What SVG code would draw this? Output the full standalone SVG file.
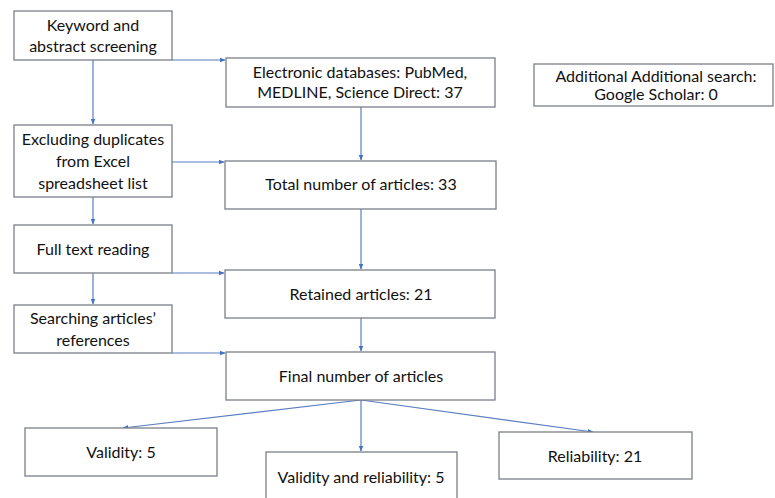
<svg xmlns="http://www.w3.org/2000/svg" width="775" height="498" viewBox="0 0 775 498">
<style>
.box{fill:#fff;stroke:#7a7f87;stroke-width:1.3}
.t{font-family:Lato,"Open Sans","Liberation Sans",sans-serif;font-size:16px;fill:#111;text-anchor:middle}
.c{fill:none;stroke:#5b7fc1;stroke-width:1.2;marker-end:url(#ah)}
</style>
<defs>
<marker id="ah" viewBox="0 0 10 10" refX="9" refY="5" markerWidth="6" markerHeight="6" markerUnits="userSpaceOnUse" orient="auto">
<path d="M0,1 L10,5 L0,9 z" fill="#4472c4"/>
</marker>
</defs>
<rect width="775" height="498" fill="#fff"/>
<g id="connectors">
<path class="c" d="M172,60 H225"/>
<path class="c" d="M93,60 V124"/>
<path class="c" d="M361,107 V160"/>
<path class="c" d="M172,162 H224"/>
<path class="c" d="M93,197 V224"/>
<path class="c" d="M361,209 V269"/>
<path class="c" d="M172,273 H224"/>
<path class="c" d="M93,273 V304"/>
<path class="c" d="M361,318 V351"/>
<path class="c" d="M172,353 H225"/>
<path class="c" d="M361,400 L123,428"/>
<path class="c" d="M361,400 V451"/>
<path class="c" d="M361,400 L593,432"/>
</g>
<g id="keyword">
<rect class="box" x="14" y="11" width="158" height="49"/>
<text class="t" x="93" y="31">Keyword and</text>
<text class="t" x="93" y="52">abstract screening</text>
</g>
<g id="electronic">
<rect class="box" x="226" y="58" width="269" height="49"/>
<text class="t" x="360" y="78">Electronic databases: PubMed,</text>
<text class="t" x="360" y="98">MEDLINE, Science Direct: 37</text>
</g>
<g id="additional">
<rect class="box" x="534" y="64" width="239" height="42"/>
<text class="t" x="656" y="82">Additional Additional search:</text>
<text class="t" x="656" y="100">Google Scholar: 0</text>
</g>
<g id="excluding">
<rect class="box" x="14" y="125" width="158" height="72"/>
<text class="t" x="93" y="145">Excluding duplicates</text>
<text class="t" x="93" y="167">from Excel</text>
<text class="t" x="93" y="189">spreadsheet list</text>
</g>
<g id="total">
<rect class="box" x="225" y="161" width="271" height="48"/>
<text class="t" x="361" y="190">Total number of articles: 33</text>
</g>
<g id="fulltext">
<rect class="box" x="14" y="225" width="158" height="48"/>
<text class="t" x="93" y="255">Full text reading</text>
</g>
<g id="retained">
<rect class="box" x="225" y="270" width="270" height="48"/>
<text class="t" x="361" y="300">Retained articles: 21</text>
</g>
<g id="searching">
<rect class="box" x="14" y="305" width="158" height="48"/>
<text class="t" x="93" y="324">Searching articles’</text>
<text class="t" x="93" y="346">references</text>
</g>
<g id="final">
<rect class="box" x="226" y="352" width="269" height="48"/>
<text class="t" x="361" y="382">Final number of articles</text>
</g>
<g id="validity">
<rect class="box" x="25" y="428" width="192" height="48"/>
<text class="t" x="121" y="458">Validity: 5</text>
</g>
<g id="validityreliability">
<rect class="box" x="266" y="452" width="191" height="50"/>
<text class="t" x="361" y="483">Validity and reliability: 5</text>
</g>
<g id="reliability">
<rect class="box" x="499" y="432" width="193" height="47"/>
<text class="t" x="595" y="462">Reliability: 21</text>
</g>
</svg>
